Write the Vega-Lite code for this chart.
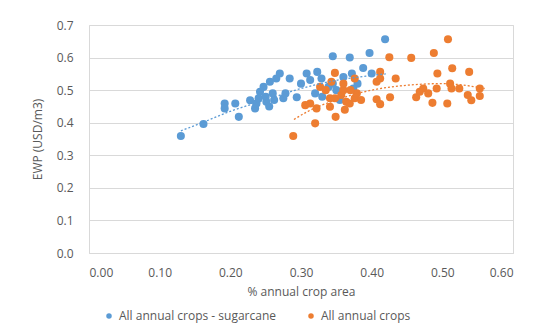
{
  "$schema": "https://vega.github.io/schema/vega-lite/v6.json",
  "width": 424,
  "height": 228,
  "autosize": {"type": "none"},
  "padding": {"left": 89, "top": 25, "right": 28, "bottom": 82},
  "background": "white",
  "config": {
    "font": "Open Sans",
    "view": {"stroke": "#d9d9d9", "strokeWidth": 1},
    "axis": {"labelFont": "Open Sans", "titleFont": "Open Sans", "labelFontSize": 12, "titleFontSize": 12, "labelColor": "#595959", "titleColor": "#595959", "titleFontWeight": "normal", "ticks": false, "gridColor": "#d9d9d9", "domainColor": "#d9d9d9"},
    "legend": {"labelFont": "Open Sans", "labelFontSize": 12, "labelColor": "#595959"}
  },
  "datasets": {
    "pts": [
      {"x":0.130,"y":0.359,"series":"All annual crops - sugarcane"},
      {"x":0.162,"y":0.396,"series":"All annual crops - sugarcane"},
      {"x":0.192,"y":0.459,"series":"All annual crops - sugarcane"},
      {"x":0.192,"y":0.444,"series":"All annual crops - sugarcane"},
      {"x":0.207,"y":0.459,"series":"All annual crops - sugarcane"},
      {"x":0.212,"y":0.418,"series":"All annual crops - sugarcane"},
      {"x":0.228,"y":0.469,"series":"All annual crops - sugarcane"},
      {"x":0.235,"y":0.444,"series":"All annual crops - sugarcane"},
      {"x":0.237,"y":0.459,"series":"All annual crops - sugarcane"},
      {"x":0.240,"y":0.475,"series":"All annual crops - sugarcane"},
      {"x":0.242,"y":0.495,"series":"All annual crops - sugarcane"},
      {"x":0.247,"y":0.510,"series":"All annual crops - sugarcane"},
      {"x":0.250,"y":0.480,"series":"All annual crops - sugarcane"},
      {"x":0.251,"y":0.464,"series":"All annual crops - sugarcane"},
      {"x":0.255,"y":0.450,"series":"All annual crops - sugarcane"},
      {"x":0.256,"y":0.526,"series":"All annual crops - sugarcane"},
      {"x":0.260,"y":0.490,"series":"All annual crops - sugarcane"},
      {"x":0.262,"y":0.470,"series":"All annual crops - sugarcane"},
      {"x":0.265,"y":0.536,"series":"All annual crops - sugarcane"},
      {"x":0.270,"y":0.551,"series":"All annual crops - sugarcane"},
      {"x":0.275,"y":0.475,"series":"All annual crops - sugarcane"},
      {"x":0.278,"y":0.490,"series":"All annual crops - sugarcane"},
      {"x":0.284,"y":0.536,"series":"All annual crops - sugarcane"},
      {"x":0.294,"y":0.478,"series":"All annual crops - sugarcane"},
      {"x":0.300,"y":0.520,"series":"All annual crops - sugarcane"},
      {"x":0.308,"y":0.551,"series":"All annual crops - sugarcane"},
      {"x":0.313,"y":0.531,"series":"All annual crops - sugarcane"},
      {"x":0.320,"y":0.490,"series":"All annual crops - sugarcane"},
      {"x":0.323,"y":0.556,"series":"All annual crops - sugarcane"},
      {"x":0.329,"y":0.536,"series":"All annual crops - sugarcane"},
      {"x":0.330,"y":0.480,"series":"All annual crops - sugarcane"},
      {"x":0.339,"y":0.510,"series":"All annual crops - sugarcane"},
      {"x":0.345,"y":0.604,"series":"All annual crops - sugarcane"},
      {"x":0.350,"y":0.500,"series":"All annual crops - sugarcane"},
      {"x":0.355,"y":0.470,"series":"All annual crops - sugarcane"},
      {"x":0.369,"y":0.600,"series":"All annual crops - sugarcane"},
      {"x":0.372,"y":0.551,"series":"All annual crops - sugarcane"},
      {"x":0.374,"y":0.505,"series":"All annual crops - sugarcane"},
      {"x":0.380,"y":0.520,"series":"All annual crops - sugarcane"},
      {"x":0.388,"y":0.568,"series":"All annual crops - sugarcane"},
      {"x":0.397,"y":0.614,"series":"All annual crops - sugarcane"},
      {"x":0.400,"y":0.551,"series":"All annual crops - sugarcane"},
      {"x":0.419,"y":0.656,"series":"All annual crops - sugarcane"},
      {"x":0.360,"y":0.540,"series":"All annual crops - sugarcane"},
      {"x":0.345,"y":0.520,"series":"All annual crops - sugarcane"},
      {"x":0.289,"y":0.359,"series":"All annual crops"},
      {"x":0.306,"y":0.454,"series":"All annual crops"},
      {"x":0.313,"y":0.459,"series":"All annual crops"},
      {"x":0.320,"y":0.398,"series":"All annual crops"},
      {"x":0.322,"y":0.444,"series":"All annual crops"},
      {"x":0.327,"y":0.510,"series":"All annual crops"},
      {"x":0.341,"y":0.449,"series":"All annual crops"},
      {"x":0.341,"y":0.475,"series":"All annual crops"},
      {"x":0.343,"y":0.526,"series":"All annual crops"},
      {"x":0.348,"y":0.553,"series":"All annual crops"},
      {"x":0.348,"y":0.475,"series":"All annual crops"},
      {"x":0.349,"y":0.418,"series":"All annual crops"},
      {"x":0.357,"y":0.485,"series":"All annual crops"},
      {"x":0.360,"y":0.500,"series":"All annual crops"},
      {"x":0.360,"y":0.520,"series":"All annual crops"},
      {"x":0.362,"y":0.440,"series":"All annual crops"},
      {"x":0.364,"y":0.464,"series":"All annual crops"},
      {"x":0.369,"y":0.459,"series":"All annual crops"},
      {"x":0.376,"y":0.475,"series":"All annual crops"},
      {"x":0.376,"y":0.536,"series":"All annual crops"},
      {"x":0.379,"y":0.490,"series":"All annual crops"},
      {"x":0.407,"y":0.526,"series":"All annual crops"},
      {"x":0.407,"y":0.472,"series":"All annual crops"},
      {"x":0.412,"y":0.556,"series":"All annual crops"},
      {"x":0.412,"y":0.536,"series":"All annual crops"},
      {"x":0.412,"y":0.457,"series":"All annual crops"},
      {"x":0.425,"y":0.601,"series":"All annual crops"},
      {"x":0.426,"y":0.478,"series":"All annual crops"},
      {"x":0.434,"y":0.536,"series":"All annual crops"},
      {"x":0.456,"y":0.599,"series":"All annual crops"},
      {"x":0.463,"y":0.478,"series":"All annual crops"},
      {"x":0.468,"y":0.495,"series":"All annual crops"},
      {"x":0.473,"y":0.505,"series":"All annual crops"},
      {"x":0.480,"y":0.490,"series":"All annual crops"},
      {"x":0.486,"y":0.461,"series":"All annual crops"},
      {"x":0.488,"y":0.614,"series":"All annual crops"},
      {"x":0.492,"y":0.505,"series":"All annual crops"},
      {"x":0.493,"y":0.551,"series":"All annual crops"},
      {"x":0.507,"y":0.459,"series":"All annual crops"},
      {"x":0.508,"y":0.656,"series":"All annual crops"},
      {"x":0.511,"y":0.520,"series":"All annual crops"},
      {"x":0.513,"y":0.505,"series":"All annual crops"},
      {"x":0.514,"y":0.567,"series":"All annual crops"},
      {"x":0.524,"y":0.505,"series":"All annual crops"},
      {"x":0.536,"y":0.485,"series":"All annual crops"},
      {"x":0.538,"y":0.556,"series":"All annual crops"},
      {"x":0.541,"y":0.469,"series":"All annual crops"},
      {"x":0.553,"y":0.505,"series":"All annual crops"},
      {"x":0.553,"y":0.482,"series":"All annual crops"},
      {"x":0.335,"y":0.500,"series":"All annual crops"},
      {"x":0.370,"y":0.500,"series":"All annual crops"},
      {"x":0.385,"y":0.470,"series":"All annual crops"}
    ],
    "blueTrend": [
      {"x":0.13,"y":0.375},{"x":0.16,"y":0.40},{"x":0.20,"y":0.435},{"x":0.25,"y":0.47},
      {"x":0.30,"y":0.505},{"x":0.35,"y":0.53},{"x":0.40,"y":0.545},{"x":0.42,"y":0.55}
    ],
    "orangeTrend": [
      {"x":0.29,"y":0.41},{"x":0.31,"y":0.435},{"x":0.35,"y":0.47},{"x":0.40,"y":0.50},
      {"x":0.45,"y":0.515},{"x":0.50,"y":0.52},{"x":0.56,"y":0.505}
    ]
  },
  "encoding": {
    "x": {"field": "x", "type": "quantitative", "scale": {"domain": [0, 0.6], "nice": false}, "axis": {"values": [0,0.1,0.2,0.3,0.4,0.5,0.6], "format": ".2f", "grid": false, "labelPadding": 14, "titlePadding": 8, "title": "% annual crop area"}},
    "y": {"field": "y", "type": "quantitative", "scale": {"domain": [0, 0.7], "nice": false}, "axis": {"values": [0,0.1,0.2,0.3,0.4,0.5,0.6,0.7], "format": ".1f", "domain": false, "labelPadding": 16, "titlePadding": 12, "title": "EWP (USD/m3)"}}
  },
  "layer": [
    {
      "data": {"name": "pts"},
      "mark": {"type": "circle", "size": 65, "opacity": 1},
      "encoding": {
        "color": {"field": "series", "type": "nominal", "scale": {"domain": ["All annual crops - sugarcane", "All annual crops"], "range": ["#5B9BD5", "#ED7D31"]}, "legend": {"title": null, "orient": "none", "direction": "horizontal", "legendX": 14, "legendY": 285, "symbolType": "circle", "symbolSize": 30, "columnPadding": 28, "labelOffset": 4}}
      }
    },
    {
      "data": {"name": "blueTrend"},
      "mark": {"type": "line", "color": "#5B9BD5", "strokeWidth": 1.3, "strokeDash": [2, 2], "interpolate": "monotone"},
      "encoding": {}
    },
    {
      "data": {"name": "orangeTrend"},
      "mark": {"type": "line", "color": "#ED7D31", "strokeWidth": 1.3, "strokeDash": [2, 2], "interpolate": "monotone"},
      "encoding": {}
    }
  ]
}
